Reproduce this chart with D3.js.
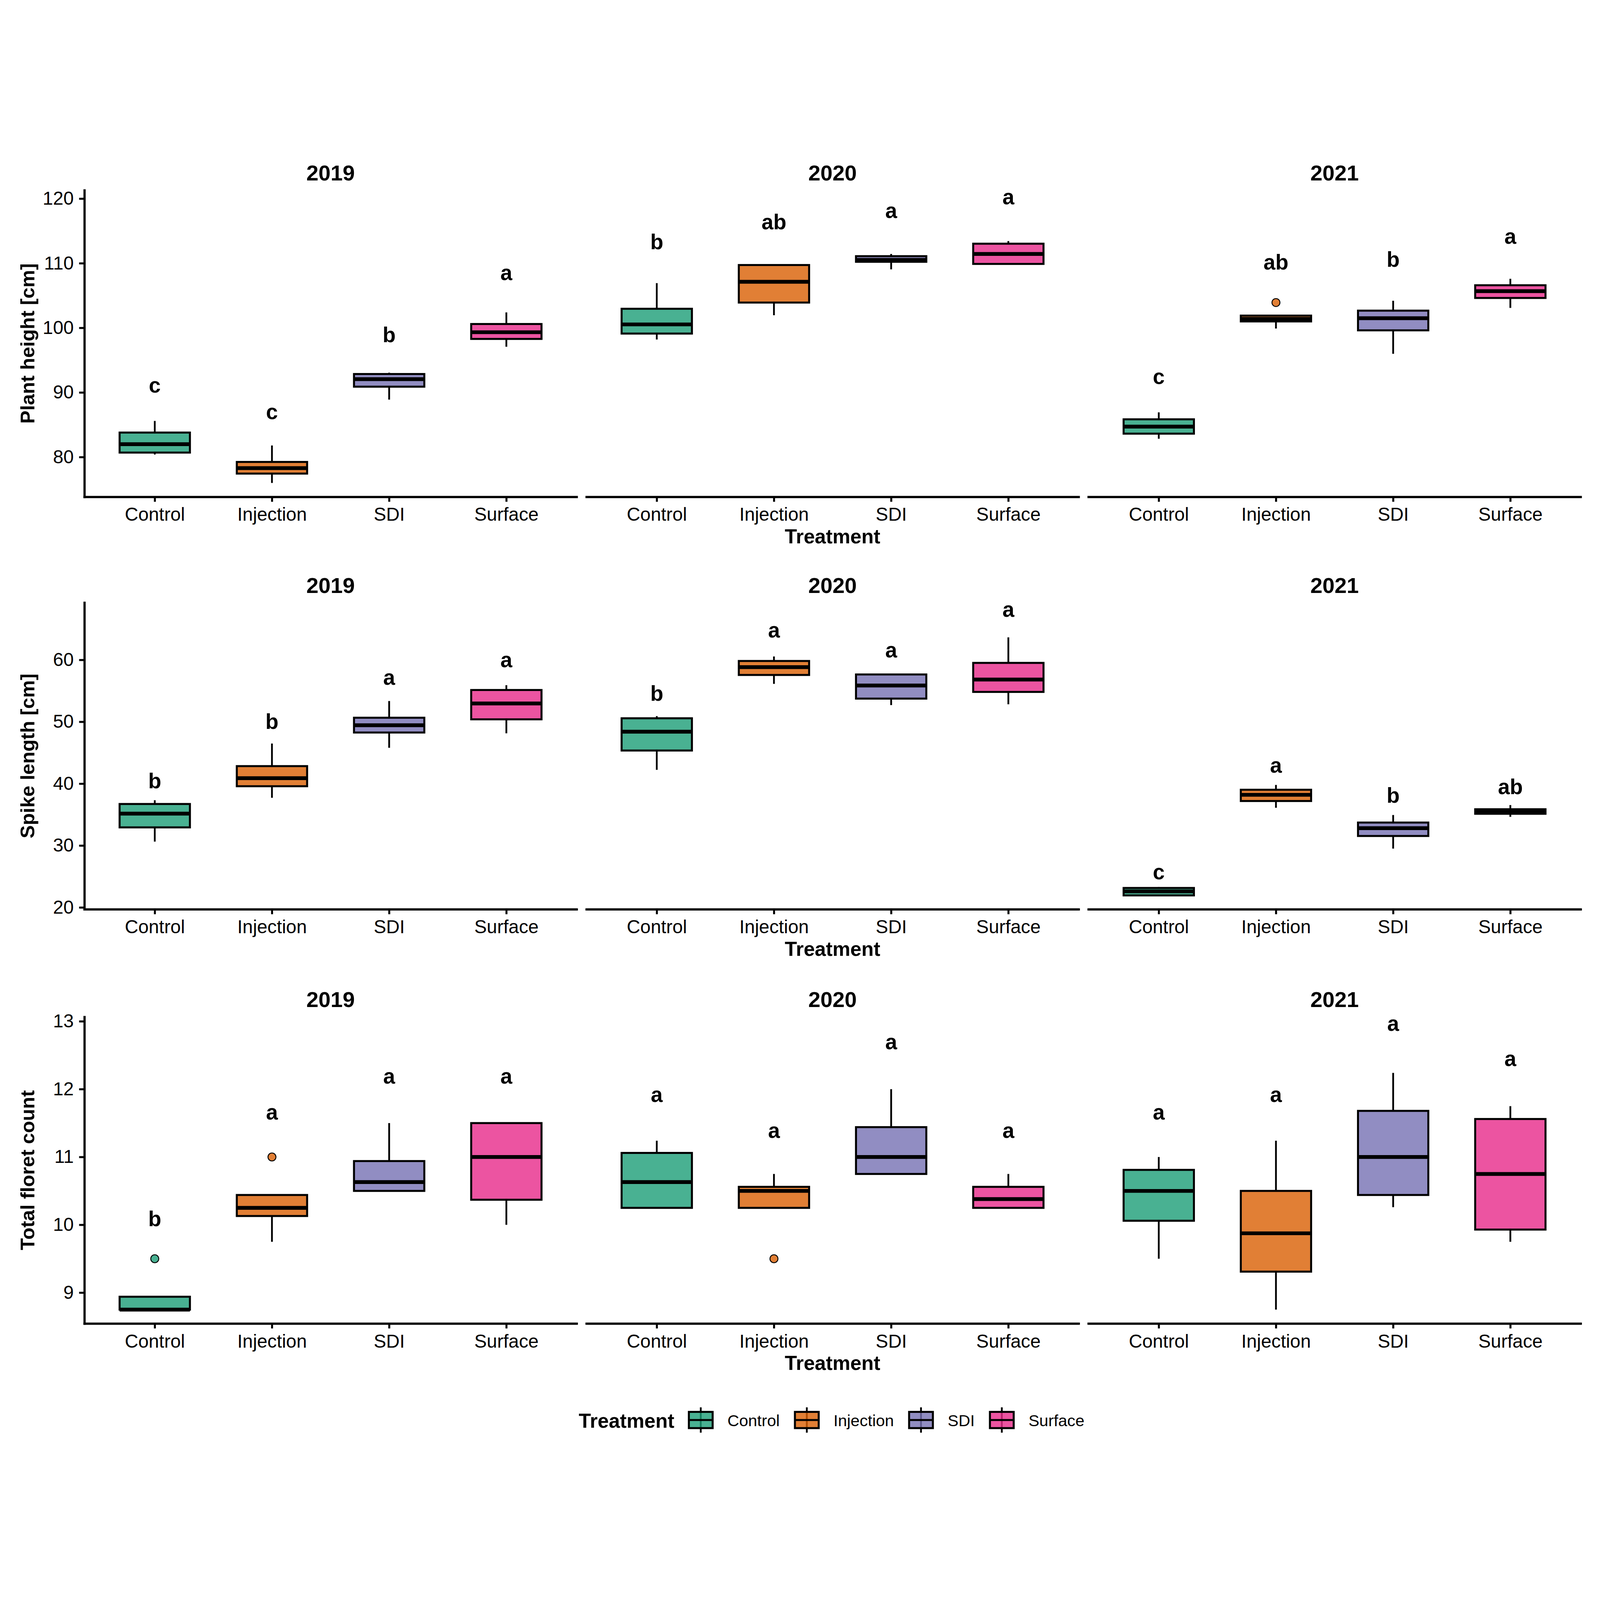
<!DOCTYPE html>
<html><head><meta charset="utf-8">
<script src="https://cdn.jsdelivr.net/npm/d3@7"></script>
<style>html,body{margin:0;padding:0;background:#fff;width:100%;height:100%;overflow:hidden}
svg{display:block;width:100vw;height:100vh}</style>
</head><body>
<svg id="chart" viewBox="0 0 7200 6000" preserveAspectRatio="xMidYMid meet"></svg>
<script>
// ---------------- DATA ----------------
const years = ["2019", "2020", "2021"];
const treatments = ["Control", "Injection", "SDI", "Surface"];
const colors = ["#1B9E77", "#D95F02", "#7570B3", "#E7298A"];
const metricTitles = ["Plant height [cm]", "Spike length [cm]", "Total floret count"];
const yTickValues = [[80, 90, 100, 110, 120], [20, 30, 40, 50, 60], [9, 10, 11, 12, 13]];

// box statistics: [lower whisker, Q1, median, Q3, upper whisker], by year then treatment
const plantHeight = [
  [[80.4, 80.7, 82.0, 83.8, 85.6], [76.0, 77.45, 78.3, 79.25, 81.8], [88.9, 90.9, 92.07, 92.86, 93.07], [97.08, 98.29, 99.33, 100.6, 102.4]],
  [[98.2, 99.12, 100.54, 102.96, 106.93], [101.96, 103.92, 107.14, 109.73, 109.73], [109.06, 110.23, 110.52, 111.1, 111.44], [109.77, 109.9, 111.44, 113.03, 113.44]],
  [[82.84, 83.63, 84.72, 85.85, 86.93], [99.9, 101.0, 101.4, 101.9, 101.9], [95.99, 99.62, 101.5, 102.67, 104.2], [103.09, 104.63, 105.68, 106.6, 107.6]]
];
const spikeLength = [
  [[30.64, 32.94, 35.16, 36.72, 37.33], [37.72, 39.59, 40.89, 42.84, 46.49], [45.8, 48.27, 49.45, 50.66, 53.36], [48.14, 50.4, 52.96, 55.14, 55.92]],
  [[42.24, 45.36, 48.4, 50.57, 50.92], [56.13, 57.57, 58.83, 59.83, 60.56], [52.7, 53.75, 55.87, 57.65, 57.65], [52.83, 54.83, 56.83, 59.52, 63.65]],
  [[21.95, 21.95, 22.6, 23.15, 23.3], [36.11, 37.2, 38.2, 39.02, 39.8], [29.51, 31.55, 32.81, 33.72, 34.94], [34.64, 35.14, 35.5, 35.87, 36.55]]
];
const floretCount = [
  [[8.75, 8.75, 8.75, 8.94, 8.94], [9.75, 10.13, 10.25, 10.44, 10.44], [10.5, 10.5, 10.63, 10.94, 11.5], [10.0, 10.37, 11.0, 11.5, 11.5]],
  [[10.25, 10.25, 10.63, 11.06, 11.24], [10.25, 10.25, 10.5, 10.56, 10.75], [10.75, 10.75, 11.0, 11.44, 12.0], [10.25, 10.25, 10.38, 10.56, 10.75]],
  [[9.5, 10.06, 10.5, 10.81, 11.0], [8.75, 9.31, 9.875, 10.5, 11.24], [10.26, 10.44, 11.0, 11.68, 12.24], [9.75, 9.93, 10.75, 11.56, 11.75]]
];

// significance letters and their y positions (baseline), by year then treatment
const plantHeightLetters = [["c", "c", "b", "a"], ["b", "ab", "a", "a"], ["c", "ab", "b", "a"]];
const plantHeightLetterY = [[89.98, 85.89, 97.79, 107.39], [112.19, 115.24, 116.99, 119.15], [91.32, 109.06, 109.48, 113.03]];
const spikeLengthLetters = [["b", "b", "a", "a"], ["b", "a", "a", "a"], ["c", "a", "b", "ab"]];
const spikeLengthLetterY = [[39.28, 48.84, 56.0, 58.83], [53.4, 63.6, 60.43, 67.0], [24.52, 41.8, 36.9, 38.33]];
const floretLetters = [["b", "a", "a", "a"], ["a", "a", "a", "a"], ["a", "a", "a", "a"]];
const floretLetterY = [[9.98, 11.55, 12.08, 12.08], [11.81, 11.28, 12.59, 11.28], [11.55, 11.81, 12.86, 12.34]];

// outliers: [metric index, year, treatment, value]
const outliers = [
  [0, "2021", "Injection", 103.92],
  [2, "2019", "Control", 9.5],
  [2, "2019", "Injection", 11.0],
  [2, "2020", "Injection", 9.5]
];

// ---------------- RENDER ----------------
const W = 7200, H = 6000;
const FONT = "'Liberation Sans', Arial, Helvetica, sans-serif";
const svg = d3.select("#chart");
svg.append("rect").attr("width", W).attr("height", H).attr("fill", "#fff");

const left = 380, right = 7113, gap = 44;
const panelW = (right - left - 2 * gap) / 3;
const rowTops = [256, 2112, 3976];
const rowH = 1380;

const metrics = [
  {stats: plantHeight, letters: plantHeightLetters, letterY: plantHeightLetterY},
  {stats: spikeLength, letters: spikeLengthLetters, letterY: spikeLengthLetterY},
  {stats: floretCount, letters: floretLetters, letterY: floretLetterY}
];
const color = d3.scaleOrdinal().domain(treatments).range(colors);

metrics.forEach((m, r) => {
  const top = rowTops[r], bottom = top + rowH;
  const outs = outliers.filter(o => o[0] === r);
  const lows = m.stats.flat().map(s => s[0]).concat(outs.map(o => o[3]));
  const highs = m.stats.flat().map(s => s[4]).concat(m.letterY.flat()).concat(outs.map(o => o[3]));
  const lo = d3.min(lows), hi = d3.max(highs), pad = 0.05 * (hi - lo);
  const y = d3.scaleLinear().domain([lo - pad, hi + pad]).range([bottom, top]);

  years.forEach((yr, p) => {
    const x0 = left + p * (panelW + gap);
    const x = d3.scalePoint().domain(treatments).range([x0, x0 + panelW]).padding(0.6);
    const bw = x.step() * 0.6;
    const g = svg.append("g");

    outs.filter(o => o[1] === yr).forEach(o => {
      g.append("circle").attr("cx", x(o[2])).attr("cy", y(o[3])).attr("r", 18)
        .attr("fill", color(o[2])).attr("fill-opacity", 0.8)
        .attr("stroke", "#000").attr("stroke-width", 4);
    });

    treatments.forEach((t, i) => {
      const s = m.stats[p][i];
      const cx = x(t);
      g.append("line").attr("x1", cx).attr("x2", cx).attr("y1", y(s[4])).attr("y2", y(s[3]))
        .attr("stroke", "#000").attr("stroke-width", 8);
      g.append("line").attr("x1", cx).attr("x2", cx).attr("y1", y(s[1])).attr("y2", y(s[0]))
        .attr("stroke", "#000").attr("stroke-width", 8);
      g.append("rect").attr("x", cx - bw / 2).attr("y", y(s[3]))
        .attr("width", bw).attr("height", Math.max(0, y(s[1]) - y(s[3])))
        .attr("fill", color(t)).attr("fill-opacity", 0.8)
        .attr("stroke", "#000").attr("stroke-width", 9);
      g.append("line").attr("x1", cx - bw / 2).attr("x2", cx + bw / 2)
        .attr("y1", y(s[2])).attr("y2", y(s[2]))
        .attr("stroke", "#000").attr("stroke-width", 17);
      g.append("text").attr("x", cx).attr("y", y(m.letterY[p][i]))
        .attr("text-anchor", "middle").attr("font-family", FONT)
        .attr("font-weight", "bold").attr("font-size", 96).attr("fill", "#000")
        .text(m.letters[p][i]);
    });

    const gx = svg.append("g").attr("transform", `translate(0,${bottom})`)
      .call(d3.axisBottom(x).tickSize(22).tickSizeOuter(0).tickPadding(26));
    gx.attr("font-size", 84).attr("font-family", FONT);
    gx.select(".domain").attr("stroke", "#000").attr("stroke-width", 10).attr("stroke-linecap", "square");
    gx.selectAll(".tick line").attr("stroke", "#000").attr("stroke-width", 9);
    gx.selectAll(".tick text").attr("fill", "#000");

    if (p === 0) {
      const gy = svg.append("g").attr("transform", `translate(${x0},0)`)
        .call(d3.axisLeft(y).tickValues(yTickValues[r]).tickFormat(d3.format("d"))
          .tickSize(24).tickSizeOuter(0).tickPadding(24));
      gy.attr("font-size", 84).attr("font-family", FONT);
      gy.select(".domain").attr("stroke", "#000").attr("stroke-width", 10).attr("stroke-linecap", "square");
      gy.selectAll(".tick line").attr("stroke", "#000").attr("stroke-width", 9);
      gy.selectAll(".tick text").attr("fill", "#000");
    }

    svg.append("text").attr("x", x0 + panelW / 2).attr("y", top - 44)
      .attr("text-anchor", "middle").attr("font-family", FONT)
      .attr("font-weight", "bold").attr("font-size", 98).attr("fill", "#000").text(yr);

    if (p === 1) {
      svg.append("text").attr("x", x0 + panelW / 2).attr("y", bottom + 209)
        .attr("text-anchor", "middle").attr("font-family", FONT)
        .attr("font-weight", "bold").attr("font-size", 90).attr("fill", "#000").text("Treatment");
    }
  });

  svg.append("text")
    .attr("transform", `translate(155,${(top + bottom) / 2}) rotate(-90)`)
    .attr("text-anchor", "middle").attr("font-family", FONT)
    .attr("font-weight", "bold").attr("font-size", 89).attr("fill", "#000").text(metricTitles[r]);
});

// ---------------- LEGEND ----------------
const legCY = 5790;
const leg = svg.append("g");
const title = leg.append("text").attr("x", 0).attr("y", 5825)
  .attr("font-family", FONT).attr("font-weight", "bold").attr("font-size", 90)
  .attr("fill", "#000").text("Treatment");
let cursor = title.node().getComputedTextLength() + 119;
treatments.forEach((t, i) => {
  const kx = cursor;
  leg.append("line").attr("x1", kx).attr("x2", kx).attr("y1", legCY - 57).attr("y2", legCY + 57)
    .attr("stroke", "#000").attr("stroke-width", 8);
  leg.append("rect").attr("x", kx - 53.5).attr("y", legCY - 36.5).attr("width", 107).attr("height", 73)
    .attr("fill", color(t)).attr("fill-opacity", 0.8).attr("stroke", "#000").attr("stroke-width", 9);
  leg.append("line").attr("x1", kx - 53.5).attr("x2", kx + 53.5).attr("y1", legCY).attr("y2", legCY)
    .attr("stroke", "#000").attr("stroke-width", 9);
  const lt = leg.append("text").attr("x", kx + 120).attr("y", legCY + 28)
    .attr("font-family", FONT).attr("font-size", 73).attr("fill", "#000").text(t);
  cursor = kx + 120 + lt.node().getComputedTextLength() + 122;
});
const legW = cursor - 122;
leg.attr("transform", `translate(${3742 - legW / 2},0)`);
</script>
</body></html>
